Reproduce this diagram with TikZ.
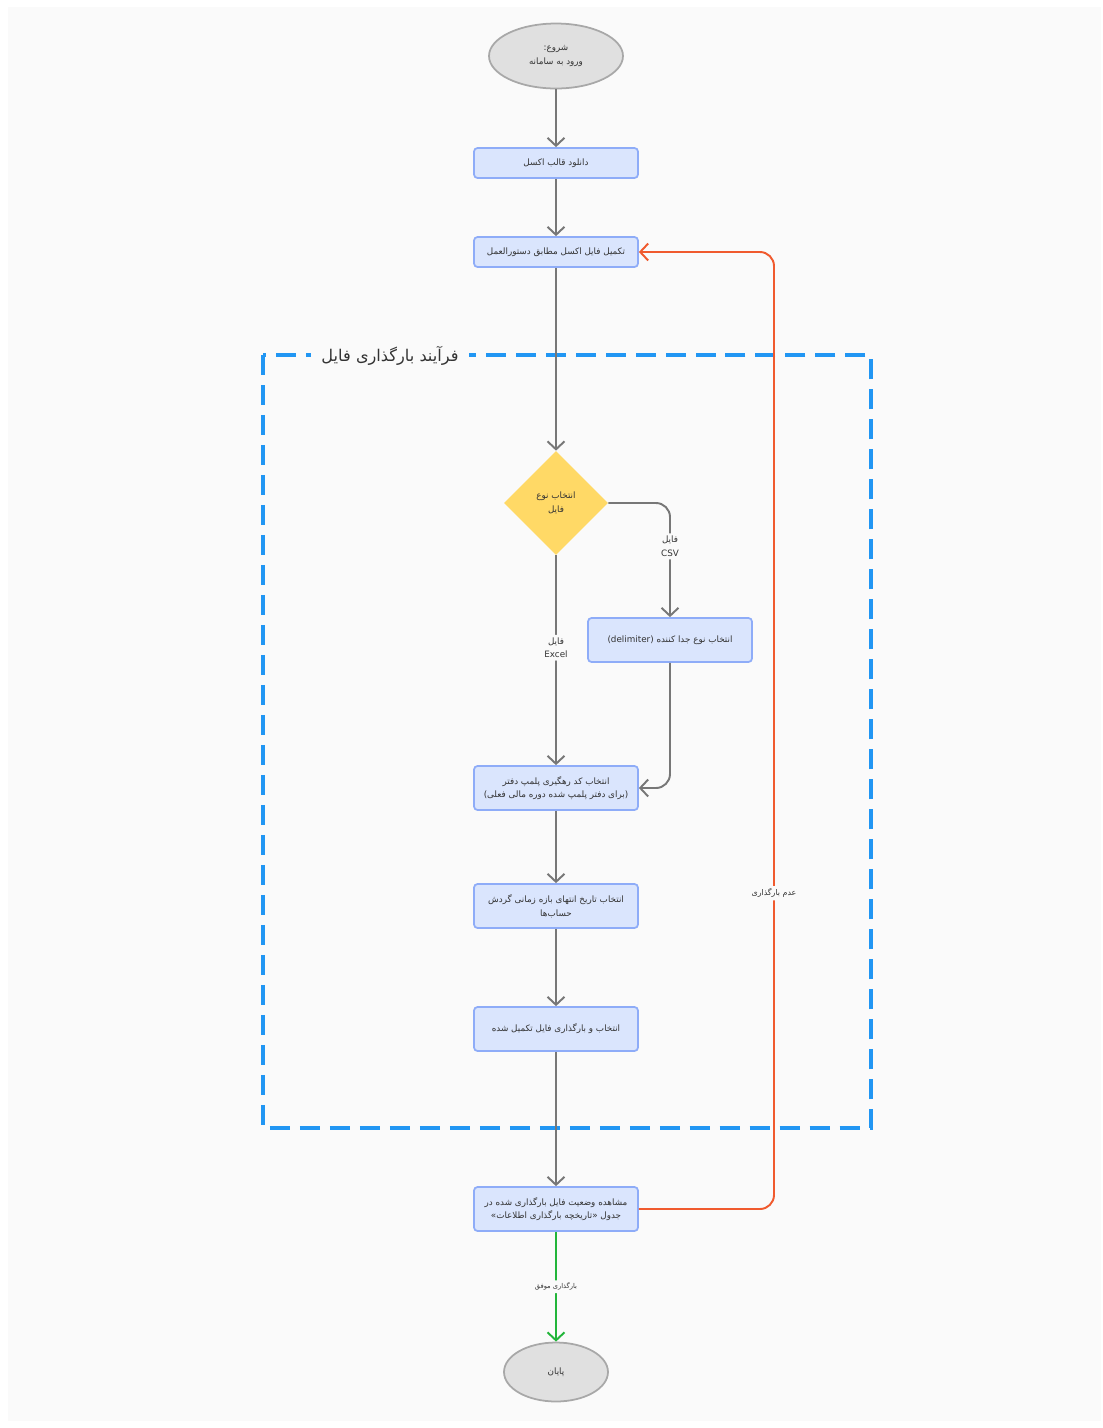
\documentclass[tikz,border=0pt]{standalone}
\usepackage{fontspec}
\setmainfont{DejaVu Sans}
\newfontfamily\arabicfont[Script=Arabic]{DejaVu Sans}
\TeXXeTstate=1
\usetikzlibrary{arrows.meta,shapes.geometric}
\newcommand{\fa}[1]{{\arabicfont\beginR #1\endR}}

\definecolor{pagebg}{HTML}{FAFAFA}
\definecolor{boxfill}{HTML}{DAE5FD}
\definecolor{boxline}{HTML}{8EACF8}
\definecolor{termfill}{HTML}{E0E0E0}
\definecolor{termline}{HTML}{A8A8A8}
\definecolor{decfill}{HTML}{FFD966}
\definecolor{flowgray}{HTML}{777777}
\definecolor{backred}{HTML}{F05A2E}
\definecolor{okgreen}{HTML}{22B53A}
\definecolor{frameblue}{HTML}{2196F3}
\definecolor{ink}{HTML}{333333}

\tikzset{
    proc/.style={draw=boxline, fill=boxfill, line width=1pt, rounded corners=2pt,
        minimum width=3.28cm, align=center, text=ink, font=\fontsize{5}{7.8}\selectfont},
    term/.style={ellipse, draw=termline, fill=termfill, line width=1pt,
        align=center, text=ink, font=\fontsize{5}{7.8}\selectfont},
    decide/.style={diamond, fill=decfill, minimum width=2.08cm, minimum height=2.08cm,
        inner sep=0pt, align=center, text=ink, font=\fontsize{5}{7.8}\selectfont},
    flow/.style={draw=flowgray, line width=1.1pt, rounded corners=8pt,
        -{Straight Barb[length=1.6mm,width=3.4mm,line width=1.1pt]}},
    backflow/.style={flow, draw=backred},
    okflow/.style={flow, draw=okgreen},
    lbl/.style={fill=pagebg, inner sep=1.5pt, align=center, text=ink,
        font=\fontsize{5}{7.8}\selectfont}
}

\begin{document}
\begin{tikzpicture}[x=0.02cm, y=-0.02cm]
    % page
    \useasboundingbox (0,0) rectangle (1103,1428);
    \fill[white] (0,0) rectangle (1103,1428);
    \fill[pagebg] (8,7) rectangle (1101,1421);

    % upload frame
    \draw[frameblue, line width=2pt, dash pattern=on 0.4cm off 0.2cm] (263,355) rectangle (871,1128);
    \node[fill=pagebg, text=ink, font=\fontsize{9.2}{11}\selectfont, inner xsep=6pt] (frametitle) at (390,356) {\fa{فرآیند بارگذاری فایل}};

    % nodes
    \node[term, minimum width=2.68cm, minimum height=1.3cm] (start) at (556,56) {\fa{شروع:}\\\fa{ورود به سامانه}};
    \node[proc, minimum height=0.6cm] (download) at (556,163) {\fa{دانلود قالب اکسل}};
    \node[proc, minimum height=0.6cm] (fill) at (556,252) {\fa{تکمیل فایل اکسل مطابق دستورالعمل}};
    \node[decide] (filetype) at (556,503) {\fa{انتخاب نوع}\\\fa{فایل}};
    \node[proc, minimum height=0.88cm] (delim) at (670,640) {\fa{انتخاب نوع جدا کننده \beginL(delimiter)\endL}};
    \node[proc, minimum height=0.88cm] (track) at (556,788) {\fa{انتخاب کد رهگیری پلمپ دفتر}\\\fa{(برای دفتر پلمپ شده دوره مالی فعلی)}};
    \node[proc, minimum height=0.88cm] (enddate) at (556,906) {\fa{انتخاب تاریخ انتهای بازه زمانی گردش}\\\fa{حساب‌ها}};
    \node[proc, minimum height=0.88cm] (upload) at (556,1029) {\fa{انتخاب و بارگذاری فایل تکمیل شده}};
    \node[proc, minimum height=0.88cm] (status) at (556,1209) {\fa{مشاهده وضعیت فایل بارگذاری شده در}\\\fa{جدول «تاریخچه بارگذاری اطلاعات»}};
    \node[term, minimum width=2.08cm, minimum height=1.18cm] (stop) at (556,1372) {\fa{پایان}};
    \coordinate (backx) at (774,0);

    % connectors
    \draw[flow] (start) -- (download);
    \draw[flow] (download) -- (fill);
    \draw[flow] (fill) -- (filetype);
    \draw[flow] (filetype.east) -| node[lbl, pos=0.69] (csvlbl) {\fa{فایل}\\CSV} (delim.north);
    \draw[flow] (filetype.south) -- node[lbl, pos=0.44] (excellbl) {\fa{فایل}\\Excel} (track.north);
    \draw[flow] (delim.south) |- (track.east);
    \draw[flow] (track) -- (enddate);
    \draw[flow] (enddate) -- (upload);
    \draw[flow] (upload) -- (status);
    \draw[backflow] (status.east) -- (status.east -| backx)
        -- node[lbl, pos=0.33, font=\fontsize{4.5}{6}\selectfont] (faillbl) {\fa{عدم بارگذاری}} (fill.east -| backx)
        -- (fill.east);
    \draw[okflow] (status) -- node[lbl, font=\fontsize{3.8}{5}\selectfont] (oklbl) {\fa{بارگذاری موفق}} (stop);
\end{tikzpicture}
\end{document}
